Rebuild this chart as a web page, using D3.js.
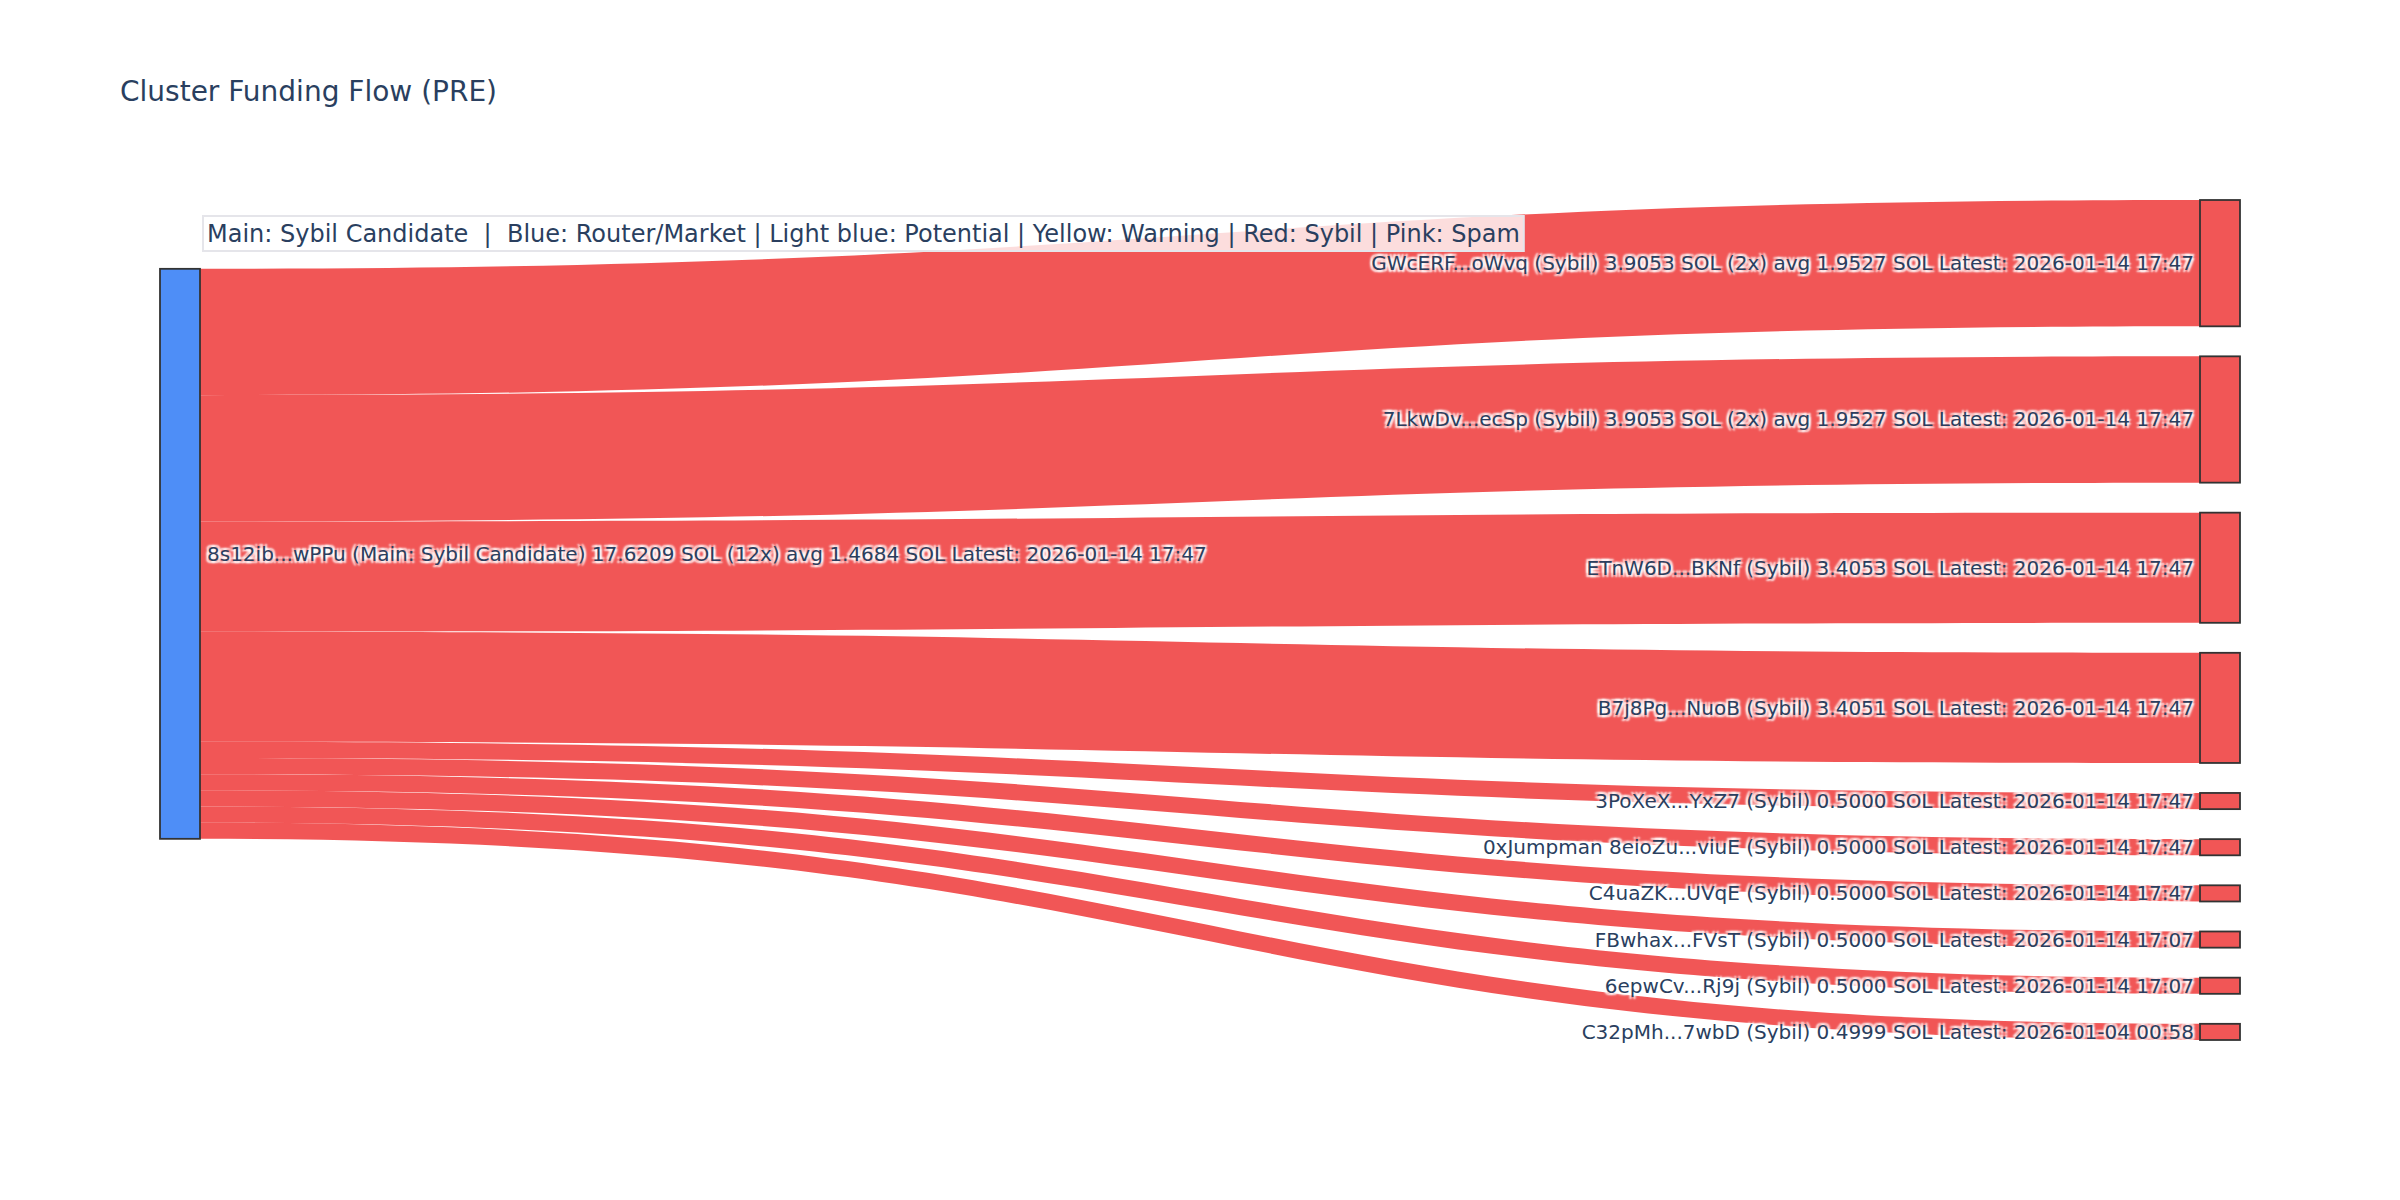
<!DOCTYPE html>
<html>
<head>
<meta charset="utf-8">
<script src="https://cdn.jsdelivr.net/npm/d3@7"></script>
<style>
  body { margin: 0; background: #fff; }
  text { font-family: "DejaVu Sans", sans-serif; fill: #2a3f5f; }
  .node-label { text-shadow: 2px 2px 2px #fff, -2px -2px 2px #fff, 2px -2px 2px #fff, -2px 2px 2px #fff; }
</style>
</head>
<body>
<div id="chart"></div>
<script>
// Set values for SVG wrapper
var svgWidth = 2400;
var svgHeight = 1200;

var margin = { top: 200, right: 160, bottom: 160, left: 160 };

var width = svgWidth - margin.left - margin.right;
var height = svgHeight - margin.top - margin.bottom;

// Chart data
var titleText = "Cluster Funding Flow (PRE)";
var legendText = "Main: Sybil Candidate  |  Blue: Router/Market | Light blue: Potential | Yellow: Warning | Red: Sybil | Pink: Spam";

var sourceLabel = "8s12ib...wPPu (Main: Sybil Candidate) 17.6209 SOL (12x) avg 1.4684 SOL Latest: 2026-01-14 17:47";

var targetLabels = [
  "GWcERF...oWvq (Sybil) 3.9053 SOL (2x) avg 1.9527 SOL Latest: 2026-01-14 17:47",
  "7LkwDv...ecSp (Sybil) 3.9053 SOL (2x) avg 1.9527 SOL Latest: 2026-01-14 17:47",
  "ETnW6D...BKNf (Sybil) 3.4053 SOL Latest: 2026-01-14 17:47",
  "B7j8Pg...NuoB (Sybil) 3.4051 SOL Latest: 2026-01-14 17:47",
  "3PoXeX...YxZ7 (Sybil) 0.5000 SOL Latest: 2026-01-14 17:47",
  "0xJumpman 8eioZu...viuE (Sybil) 0.5000 SOL Latest: 2026-01-14 17:47",
  "C4uaZK...UVqE (Sybil) 0.5000 SOL Latest: 2026-01-14 17:47",
  "FBwhax...FVsT (Sybil) 0.5000 SOL Latest: 2026-01-14 17:07",
  "6epwCv...Rj9j (Sybil) 0.5000 SOL Latest: 2026-01-14 17:07",
  "C32pMh...7wbD (Sybil) 0.4999 SOL Latest: 2026-01-04 00:58"
];

var targetValues = [3.9053, 3.9053, 3.4053, 3.4051, 0.5000, 0.5000, 0.5000, 0.5000, 0.5000, 0.4999];

var nodeWidth = 40;
var nodePad = 30;

var svg = d3
  .select("#chart")
  .append("svg")
  .attr("width", svgWidth)
  .attr("height", svgHeight);

// title
svg.append("text")
  .attr("x", 120)
  .attr("y", 101)
  .style("font-size", "28px")
  .text(titleText);

var chartGroup = svg.append("g")
  .attr("transform", `translate(${margin.left}, ${margin.top})`);

// value scale -> pixel thickness
var total = d3.sum(targetValues);
var valueScale = d3.scaleLinear()
  .domain([0, total])
  .range([0, height - (targetValues.length - 1) * nodePad]);

// column positions
var xScale = d3.scalePoint()
  .domain(["source", "target"])
  .range([0, width - nodeWidth]);

// stack the target nodes
var targets = [];
var yCursor = 0;
targetValues.forEach(function(v, i) {
  var h = valueScale(v);
  targets.push({ label: targetLabels[i], value: v, y0: yCursor, y1: yCursor + h });
  yCursor += h + nodePad;
});

// source centred on the value-weighted centre of its targets
var sourceCenter = d3.sum(targets, d => d.value * (d.y0 + d.y1) / 2) / total;
var sourceHeight = valueScale(total);
var source = { label: sourceLabel, value: total,
  y0: sourceCenter - sourceHeight / 2, y1: sourceCenter + sourceHeight / 2 };

// links
var links = [];
var sy = source.y0;
targets.forEach(function(t) {
  var w = valueScale(t.value);
  links.push({ sy0: sy, sy1: sy + w, ty0: t.y0, ty1: t.y1 });
  sy += w;
});

function linkPath(d) {
  var x0 = xScale("source") + nodeWidth;
  var x1 = xScale("target");
  var xi = d3.interpolateNumber(x0, x1);
  var x2 = xi(0.5), x3 = xi(0.5);
  return "M" + x0 + "," + d.sy0 +
    "C" + x2 + "," + d.sy0 + " " + x3 + "," + d.ty0 + " " + x1 + "," + d.ty0 +
    "L" + x1 + "," + d.ty1 +
    "C" + x3 + "," + d.ty1 + " " + x2 + "," + d.sy1 + " " + x0 + "," + d.sy1 + "Z";
}

chartGroup.append("g")
  .selectAll("path")
  .data(links)
  .enter()
  .append("path")
  .attr("d", linkPath)
  .attr("fill", "rgba(239,68,68,0.9)");

// source node
chartGroup.append("rect")
  .attr("x", xScale("source"))
  .attr("y", source.y0)
  .attr("width", nodeWidth)
  .attr("height", source.y1 - source.y0)
  .attr("fill", "rgba(59,130,246,0.9)")
  .attr("stroke", "#333")
  .attr("stroke-width", 1.8);

// target nodes
chartGroup.append("g")
  .selectAll("rect")
  .data(targets)
  .enter()
  .append("rect")
  .attr("x", xScale("target"))
  .attr("y", d => d.y0)
  .attr("width", nodeWidth)
  .attr("height", d => d.y1 - d.y0)
  .attr("fill", "rgba(239,68,68,0.9)")
  .attr("stroke", "#333")
  .attr("stroke-width", 1.8);

// labels
chartGroup.append("text")
  .classed("node-label", true)
  .attr("x", xScale("source") + nodeWidth + 7)
  .attr("y", (source.y0 + source.y1) / 2)
  .attr("dy", "0.35em")
  .style("font-size", "20px")
  .text(source.label);

chartGroup.append("g")
  .selectAll("text")
  .data(targets)
  .enter()
  .append("text")
  .classed("node-label", true)
  .attr("x", xScale("target") - 6)
  .attr("y", d => (d.y0 + d.y1) / 2)
  .attr("dy", "0.35em")
  .attr("text-anchor", "end")
  .style("font-size", "20px")
  .text(d => d.label);

// legend annotation box
var legendGroup = svg.append("g")
  .attr("transform", "translate(203, 216)");

var legendLabel = legendGroup.append("text")
  .attr("x", 4)
  .attr("y", 26)
  .attr("xml:space", "preserve")
  .style("white-space", "pre")
  .style("font-size", "24px")
  .text(legendText);

var bbox = legendLabel.node().getBBox();
legendGroup.insert("rect", "text")
  .attr("x", 0)
  .attr("y", 0)
  .attr("width", bbox.width + 8)
  .attr("height", 35)
  .attr("fill", "rgba(255,255,255,0.8)")
  .attr("stroke", "#e5e5ea")
  .attr("stroke-width", 2);
</script>
</body>
</html>
